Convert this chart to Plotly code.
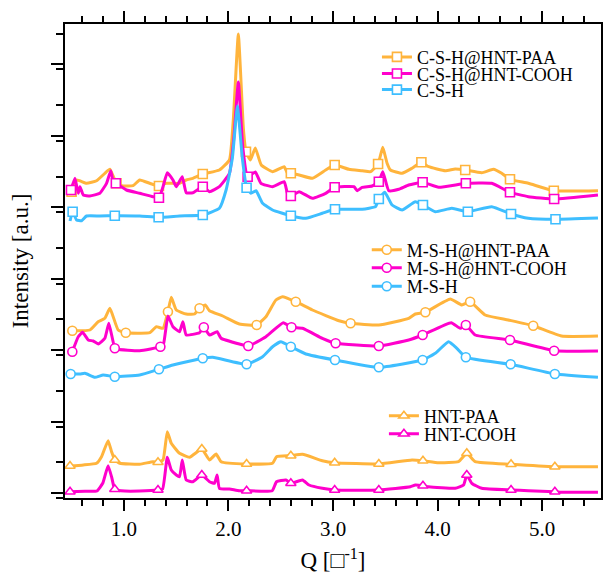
import numpy as np
import plotly.graph_objects as go

# ---------------- data (Q in 1/Å, intensity in arbitrary offset units) -------------
hnt_cooh_q = [0.486,0.629,0.743,0.8,0.85,0.886,0.914,1.01,1.152,1.327,1.371,1.416,1.454,1.502,1.533,1.559,1.597,1.66,1.746,1.819,1.867,1.892,1.914,2.01,2.105,2.174,2.419,2.46,2.55,2.597,2.708,2.771,2.898,3.016,3.438,3.74,3.787,3.86,3.914,4.168,4.248,4.279,4.327,4.422,4.702,4.867,5.121,5.184,5.533]
hnt_cooh_i = [6.3,6.7,7,15,32.3,20,8.7,7,7,8,9,40.7,28,23,21.3,38,18,16.3,23,16.3,14.7,23,9.7,9,7.3,7.3,7.3,16.3,18,14.7,18,13,9.7,8,8,11.3,13,12.3,11.3,9.7,13,23,14.7,9.7,8,7.3,6.3,5.7,5.7]

hnt_paa_q = [0.486,0.613,0.74,0.787,0.85,0.883,0.914,0.962,1.152,1.279,1.327,1.375,1.416,1.454,1.533,1.629,1.746,1.819,1.883,1.93,2.174,2.422,2.46,2.597,2.708,2.898,3.016,3.438,3.755,3.86,4.01,4.2,4.279,4.359,4.702,5.121,5.533]
hnt_paa_i = [32,33,34.7,41.3,57.3,46.3,38,34.7,33.7,36.3,35.7,38,66.3,54.7,44.7,40.7,49,38,44,36.3,34,34.7,41.3,42.3,43.7,37.3,35.3,34,38,37.3,35.3,36.3,44.7,36.3,33.7,31.3,31.3]

msh_q = [0.492,0.581,0.629,0.724,0.803,0.914,1.152,1.336,1.47,1.755,1.851,2.174,2.327,2.422,2.502,2.597,2.74,3.019,3.438,3.857,3.978,4.105,4.184,4.27,4.698,5.121,5.533]
msh_i = [124,124,124.7,120.7,123,121.3,123,128.7,133,139.7,140.7,133.7,141.3,151.3,156.3,151.3,144,138,130.7,138,144.7,156.3,149.7,140.7,133.7,124,120.7]

msh_cooh_q = [0.508,0.565,0.606,0.66,0.708,0.755,0.819,0.857,0.914,0.936,1.152,1.35,1.381,1.422,1.47,1.533,1.565,1.597,1.724,1.765,1.819,1.892,1.93,2.105,2.19,2.359,2.524,2.603,2.708,2.898,3.025,3.438,3.724,3.857,4.13,4.216,4.27,4.359,4.692,5.114,5.533]
msh_cooh_i = [146.3,161.3,165.7,158,157,154,159.7,174.7,149.7,148.7,147.3,151.3,154.7,182,171.3,166.3,176.3,163,165.3,170.7,163,166.3,159.7,154,152,161.3,175.3,170.7,169.7,159.7,154.7,152,158,163,175.3,169.7,173,163,158,147.3,147]

msh_paa_q = [0.508,0.676,0.755,0.819,0.867,0.946,1.019,1.248,1.311,1.375,1.422,1.454,1.502,1.597,1.676,1.724,1.778,1.819,1.946,2.105,2.27,2.359,2.454,2.517,2.644,2.803,3.057,3.168,3.438,3.724,3.787,3.883,4.121,4.232,4.311,4.454,4.676,4.914,5.184,5.533]
msh_paa_i = [167.3,168,176.3,179.7,189.7,168,165.3,165.3,171.3,169.7,186.3,200.7,188,184,184,189.7,193,187.3,182,174,173,181.3,198,201.3,196.3,188,177.3,174.7,173,179.7,184,185.7,199,193,196.3,183,178,172.3,162,162]

csh_q = [0.486,0.511,0.549,0.597,0.644,0.771,0.914,1.152,1.333,1.533,1.755,1.914,1.978,2.038,2.086,2.133,2.174,2.216,2.264,2.327,2.422,2.597,2.74,2.898,3.019,3.279,3.406,3.438,3.495,3.565,3.66,3.787,3.86,3.978,4.136,4.289,4.517,4.702,4.867,5.127,5.533]
csh_i = [277,286.3,278,277.3,282,282,282.3,282,280.7,282,283,289.7,308,340,392,340,310.3,304.7,307.3,294.7,288,282.3,279.7,284.7,288.7,288.7,291.3,299,305.7,293,288,296.3,293,286.3,289.7,286.3,291.3,284,279.7,278.7,280]

csh_cooh_q = [0.495,0.533,0.565,0.581,0.613,0.676,0.771,0.835,0.876,0.898,0.924,1.025,1.152,1.279,1.336,1.375,1.416,1.47,1.502,1.559,1.597,1.66,1.755,1.819,1.914,2.01,2.052,2.095,2.138,2.184,2.257,2.311,2.422,2.533,2.565,2.597,2.676,2.803,2.93,3.016,3.2,3.232,3.279,3.374,3.438,3.476,3.533,3.629,3.724,3.857,4.01,4.27,4.517,4.692,4.867,5.114,5.533]
csh_cooh_i = [308,319.7,304.7,311.3,303,302,304.7,314.7,327.3,316.3,314.7,308,304.7,301.3,300.3,311.3,325.3,318,311.3,321.3,305.3,305.3,311.3,306.3,311.3,324.7,360,416,350,321.3,326,314.7,311.3,316.3,304.7,302,306.3,299.7,304.7,310.7,311.3,307.3,310.7,312,316.3,326.3,307.3,308.7,313,315.7,310.7,314.7,314.7,305.7,301.3,299,303]

csh_paa_q = [0.501,0.549,0.644,0.74,0.819,0.867,0.93,0.993,1.089,1.152,1.248,1.336,1.406,1.533,1.597,1.66,1.755,1.914,2.01,2.048,2.095,2.143,2.168,2.21,2.257,2.314,2.422,2.533,2.565,2.597,2.676,2.803,2.93,3.016,3.152,3.279,3.359,3.431,3.476,3.517,3.549,3.66,3.755,3.845,3.914,4.073,4.168,4.264,4.422,4.533,4.613,4.692,4.867,5.111,5.533]
csh_paa_i = [306.3,318,314.7,317.3,324.7,328.7,314.7,312,312.3,318,314.7,312,314.7,314.7,318,319.7,324,328,338,380,464,370,346.3,338,350,333,326.3,331.3,324.7,324.7,323,319.7,328,333,328.7,327.3,326.3,334,350.7,334.7,328,324.7,329.7,335.7,331.3,327.3,329,328,325.3,328.7,324.7,318.7,314.7,307.3,307.3]

marker_q = [0.5, 0.92, 1.34, 1.76, 2.18, 2.6, 3.02, 3.44, 3.86, 4.28, 4.7, 5.12]
msh_paa_marker_q = [0.508, 1.019, 1.422, 1.724, 2.27, 2.644, 3.168, 3.883, 4.311, 4.914]

x_tick_vals = [1.0, 2.0, 3.0, 4.0, 5.0]
x_tick_text = ["1.0", "2.0", "3.0", "4.0", "5.0"]

ORANGE = "#FFB43C"
MAGENTA = "#FF00CC"
BLUE = "#3EBEFF"
FONT = "Liberation Serif"

series = [
    # name, q, i, color, symbol, marker q, legend id, legend x, legend y
    ("C-S-H@HNT-PAA", csh_paa_q, csh_paa_i, ORANGE, "square", marker_q, "legend", 0.582, 0.930),
    ("C-S-H@HNT-COOH", csh_cooh_q, csh_cooh_i, MAGENTA, "square", marker_q, "legend2", 0.582, 0.895),
    ("C-S-H", csh_q, csh_i, BLUE, "square", marker_q, "legend3", 0.582, 0.861),
    ("M-S-H@HNT-PAA", msh_paa_q, msh_paa_i, ORANGE, "circle", msh_paa_marker_q, "legend4", 0.563, 0.523),
    ("M-S-H@HNT-COOH", msh_cooh_q, msh_cooh_i, MAGENTA, "circle", marker_q, "legend5", 0.563, 0.485),
    ("M-S-H", msh_q, msh_i, BLUE, "circle", marker_q, "legend6", 0.563, 0.446),
    ("HNT-PAA", hnt_paa_q, hnt_paa_i, ORANGE, "triangle-up", marker_q, "legend7", 0.595, 0.173),
    ("HNT-COOH", hnt_cooh_q, hnt_cooh_i, MAGENTA, "triangle-up", marker_q, "legend8", 0.595, 0.135),
]

fig = go.Figure()
layout_legends = {}
for name, q, inten, color, sym, mq, leg, lx, ly in series:
    q_arr = np.asarray(q)
    i_arr = np.asarray(inten)
    idx = sorted({int(np.argmin(np.abs(q_arr - m))) for m in mq})
    marker = dict(symbol=sym, size=9, color="white", line=dict(color=color, width=1.6))
    fig.add_trace(go.Scatter(x=q_arr, y=i_arr, mode="lines",
                             line=dict(color=color, width=3, shape="spline", smoothing=0.4),
                             showlegend=False, hoverinfo="skip"))
    fig.add_trace(go.Scatter(x=q_arr[idx], y=i_arr[idx], mode="markers",
                             marker=marker, showlegend=False, name=name))
    fig.add_trace(go.Scatter(x=[None], y=[None], mode="lines+markers", name=name,
                             line=dict(color=color, width=3), marker=marker,
                             showlegend=True, legend=leg))
    layout_legends[leg] = dict(x=lx, y=ly, xanchor="left", yanchor="middle",
                               bgcolor="rgba(0,0,0,0)", borderwidth=0,
                               font=dict(family=FONT, size=18, color="black"))

fig.update_layout(
    width=607, height=576,
    margin=dict(l=65, r=4, t=24, b=78),
    paper_bgcolor="white", plot_bgcolor="white",
    font=dict(family=FONT, color="black"),
    **layout_legends,
)

fig.update_xaxes(
    range=[0.438, 5.562],
    tickvals=x_tick_vals, ticktext=x_tick_text,
    ticks="outside", ticklen=11, tickwidth=2, tickcolor="black",
    minor=dict(dtick=0.2, tick0=0, ticks="outside", ticklen=6, tickwidth=2, tickcolor="black"),
    showline=True, linewidth=2, linecolor="black", mirror="allticks",
    showgrid=False, zeroline=False,
    tickfont=dict(family=FONT, size=21, color="black"),
    title=dict(text="Q [\u25a1<sup>-1</sup>]", font=dict(family=FONT, size=23, color="black"), standoff=12),
)
fig.update_yaxes(
    range=[0, 474],
    tick0=5, dtick=71.43,
    ticks="outside", ticklen=12, tickwidth=2, tickcolor="black",
    minor=dict(dtick=35.715, ticks="outside", ticklen=7, tickwidth=2, tickcolor="black"),
    showticklabels=False,
    showline=True, linewidth=2, linecolor="black", mirror=True,
    showgrid=False, zeroline=False,
    title=dict(text="Intensity [a.u.]", font=dict(family=FONT, size=23, color="black"), standoff=16),
)

fig.write_html("out.html", config={"displayModeBar": False},
               post_script="document.body.style.margin='0px';")
